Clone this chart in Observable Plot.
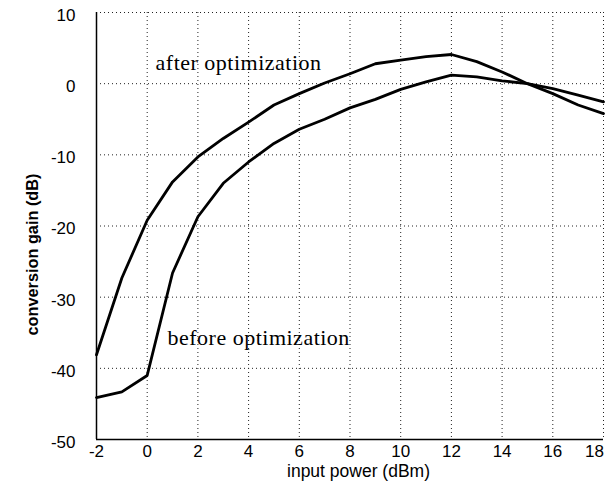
<!DOCTYPE html>
<html><head><meta charset="utf-8">
<script src="https://cdn.jsdelivr.net/npm/d3@7"></script>
<script src="https://cdn.jsdelivr.net/npm/@observablehq/plot@0.6"></script>
<style>
body{margin:0;background:#fff}
svg g[font-family*="Serif"] text{letter-spacing:0.5px}
</style>
</head><body><div id="chart"></div>
<script>
const inputPower = [-2,-1,0,1,2,3,4,5,6,7,8,9,10,11,12,13,14,15,16,17,18];
const afterOpt  = [-38.1,-27.3,-19.2,-13.8,-10.3,-7.7,-5.4,-3.0,-1.4,0.1,1.4,2.8,3.3,3.8,4.1,3.1,1.65,0.0,-1.4,-3.0,-4.2];
const beforeOpt = [-44.1,-43.3,-41.0,-26.6,-18.7,-14.0,-11.0,-8.4,-6.4,-5.0,-3.4,-2.2,-0.8,0.25,1.2,0.95,0.4,0.0,-0.7,-1.6,-2.55];
const xTicks = [-2,0,2,4,6,8,10,12,14,16,18];
const yTicks = [-50,-40,-30,-20,-10,0,10];
const curveLabels = [
  {text: "after optimization", x: 0.33, y: 2.97},
  {text: "before optimization", x: 0.80, y: -35.8}
];
const xLabel = "input power (dBm)";
const yLabel = "conversion gain (dB)";

const rows = inputPower.flatMap((p, i) => [
  {p, g: afterOpt[i], s: "after"},
  {p, g: beforeOpt[i], s: "before"}
]);

const dotted = {stroke: "#222", strokeOpacity: 1, strokeWidth: 1, strokeDasharray: "1,3"};
const tickFont = {tickSize: 0, fontSize: 17, label: null, tickFormat: d => String(d)};

const plot = Plot.plot({
  width: 611, height: 490,
  marginLeft: 96, marginRight: 8, marginTop: 12, marginBottom: 51,
  style: {fontFamily: "'Liberation Sans', Arial, sans-serif", background: "white", color: "black"},
  x: {domain: [-2, 18]},
  y: {domain: [-50, 10]},
  marks: [
    Plot.gridX(xTicks.slice(1), dotted),
    Plot.gridY(yTicks.slice(1), dotted),
    Plot.ruleX([-2], {stroke: "black", strokeWidth: 1.5}),
    Plot.ruleY([-50], {stroke: "black", strokeWidth: 1.5}),
    Plot.axisX(xTicks.slice(0, -1), {...tickFont, tickPadding: 5}),
    Plot.axisX(xTicks.slice(-1), {...tickFont, tickPadding: 5, dx: -9}),
    Plot.axisY(yTicks, {...tickFont, tickPadding: 21, dy: 3}),
    Plot.line(rows, {x: "p", y: "g", z: "s", stroke: "black", strokeWidth: 2.8}),
    Plot.text(curveLabels, {x: "x", y: "y", text: "text", textAnchor: "start", lineAnchor: "middle",
      fontFamily: "'Liberation Serif', 'Times New Roman', serif", fontSize: 22, fill: "black"}),
    Plot.text([yLabel], {frameAnchor: "left", rotate: -90, dx: -64, dy: 28.5, fontWeight: "bold",
      fontSize: 16.3, textAnchor: "middle", lineAnchor: "middle", fill: "black"}),
    Plot.text([xLabel], {frameAnchor: "bottom", dx: 8.5, dy: 32, fontSize: 17.5, lineAnchor: "middle", fill: "black"})
  ]
});
document.getElementById("chart").appendChild(plot);
</script>
</body></html>
